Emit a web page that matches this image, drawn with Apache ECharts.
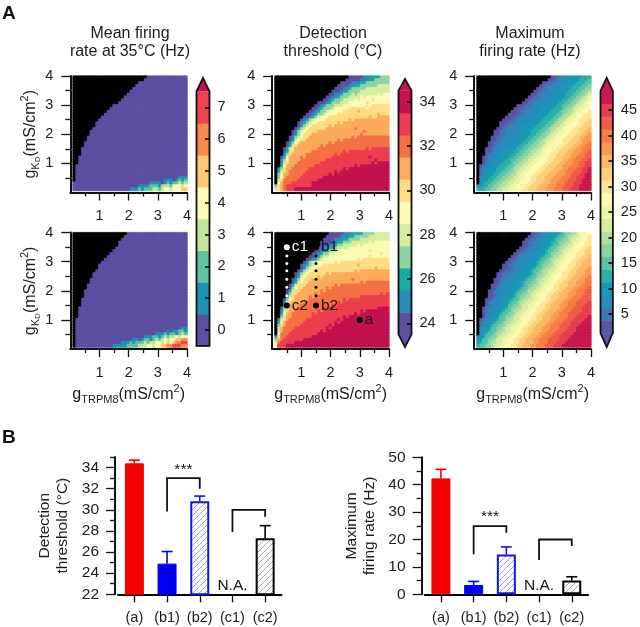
<!DOCTYPE html>
<html><head><meta charset="utf-8">
<style>html,body{margin:0;padding:0;background:#fff}#c{width:640px;height:627px}</style>
<script src="https://cdn.jsdelivr.net/npm/echarts@6/dist/echarts.min.js"></script>
</head><body><div id="c"></div>
<script>
// conductance grid (0.1 .. 4.0 mS/cm2), 40 x 40 cells
const gLabels = ['0.1','0.2','0.3','0.4','0.5','0.6','0.7','0.8','0.9','1.0','1.1','1.2','1.3','1.4','1.5','1.6','1.7','1.8','1.9','2.0','2.1','2.2','2.3','2.4','2.5','2.6','2.7','2.8','2.9','3.0','3.1','3.2','3.3','3.4','3.5','3.6','3.7','3.8','3.9','4.0'];

// colour classes
const firingPalette = ['#5e4fa2','#1c93b4','#5cc4a2','#c4e69c','#fdfcb4','#fdc86e','#f98a47','#f0434f','#c2134f'];
const thresholdPalette = ['#5e4fa2','#2b8cbc','#17ada4','#8ed4a2','#d6ee9e','#fbfbb2','#fedd84','#fdab5d','#f57145','#ec3e50','#c2134f'];
const ratePalette = ['#5b55a6','#4374b4','#2a8bbd','#1b98b6','#2bb0a8','#58c3a5','#8ad1a4','#b1dfa3','#d8eda0','#eef7a6','#fdfbb2','#fee79a','#fdd07a','#fdb866','#fb9b50','#f67f45','#f15d48','#e63e50','#c9194f'];

// each row is written top (4.0) to bottom (0.1); "." = no firing, x*n = n cells of class x
const firingTopRows = [".*26 0*14",".*25 0*15",".*23 0*17",".*22 0*18",".*21 0*19",".*20 0*20",".*19 0*21",".*18 0*22",".*17 0*23",".*16 0*24",".*14 0*26",".*13 0*27",".*12 0*28",".*11 0*29",".*10 0*30",".*9 0*31",".*8 0*32",".*8 0*32",".*7 0*33",".*6 0*34",".*6 0*34",".*5 0*35",".*5 0*35",".*4 0*36",".*4 0*36",".*3 0*37",".*3 0*37",".*3 0*37",".*2 0*38",".*2 0*38",".*2 0*38",".*1 0*39",".*1 0*39",".*1 0*39",".*1 0*39",".*1 0*36 1*3",".*1 0*31 1*3 0 1 2 1 2 2",".*0 0*27 1*4 0 1 2 1 2 2 3 2 3 3 4 4",".*0 0*23 1*4 2*3 1 3*3 2 4*3 3 4 5 4",".*0 0*20 1*3 2 1 2*3 3*2 2 3 4*2 3 4*3 5 5 4"];
const firingBottomRows = [".*19 0*21",".*18 0*22",".*17 0*23",".*16 0*24",".*16 0*24",".*15 0*25",".*14 0*26",".*13 0*27",".*12 0*28",".*11 0*29",".*10 0*30",".*9 0*31",".*9 0*31",".*8 0*32",".*7 0*33",".*7 0*33",".*6 0*34",".*6 0*34",".*5 0*35",".*5 0*35",".*4 0*36",".*4 0*36",".*4 0*36",".*3 0*37",".*3 0*37",".*3 0*37",".*2 0*38",".*2 0*38",".*2 0*38",".*2 0*38",".*1 0*39",".*1 0*39",".*1 0*39",".*1 0*37 1*2",".*1 0*32 1 0 1 1 2 2 1 2",".*1 0*28 1*3 2 1 2*2 1 2 3 2 3",".*1 0*24 1*3 2*2 1 2 3 2 3*2 4 3 4*2",".*1 0*20 1*2 0 1 2*2 1 2 3 2 3 4 3 4 4 5 5 6",".*1 0*16 1*3 2 1 2*3 3 2 3*2 4*2 3 4 5 4 5 6 6 7",".*1 0*13 1*5 2*4 3*3 4*2 3 4*2 5*2 6*2 7*3 6"];

const thresholdTopRows = [".*26 0*5 1*3 2*3 3*3",".*25 0*5 1*3 2*2 3*5",".*23 0*4 1*3 2*2 3*8",".*22 0*4 1*2 2*2 3*6 4*4",".*21 0*3 1*2 2 3*5 4*8",".*20 0*3 1*2 2 3*4 4*10",".*19 0*2 1*2 2 3*3 43 4*7 54 5*2",".*18 0*2 1*2 2 3*3 4*4 54 5*8",".*17 0*2 1 2 3*3 4*4 54 5*4 65 5*4",".*15 0*3 1 2 3*3 4*3 5*6 65 5*6",".*14 0*2 1 2 3*3 4*3 5*8 65 6*6",".*13 0*2 1 2 3*3 4 5*5 6*6 56 6*6",".*12 0*2 1 2 3*2 4 5*5 6*5 76 6*9",".*11 0*2 1 2 3*2 4 5*4 6*14 76 6*2",".*10 0*2 1 2 3 4 5*3 6*14 76 6 7*4",".*9 0 1 2 3 4 5*4 6*8 76 7*12",".*8 0 1 2 3 4 5*2 6*7 76 7*16",".*8 0 1 3 4 5 6*6 76 7*19",".*7 0 1 3 4 5 6*6 7*10 87 7*10",".*6 0 1 3 4 5 6*4 7*16 87 7*7",".*6 0 1 3 5 6*3 7*17 87 7*8",".*5 0 1 3 4 5 6*2 7*15 87 8*11",".*5 0 1 4 5 6*2 7*11 87 8*16",".*4 0 1 3 5 6 7*10 87 8*19",".*4 0 2 4 6 7*8 87 8*22",".*3 0 2 4 6 7*8 8*17 98 9*6",".*3 0 2 4 6 7*6 8*11 98 9*14",".*3 1 3 6 7*5 8*10 98 9*17",".*2 0 2 5 7*4 87 8*9 9*13 a9 9*5",".*2 1 3 5 7*4 8*9 9*17 a9 9*3",".*2 1 4 6 7*3 8*8 9*18 a9 a*4",".*2 2 5 7*3 8*7 9*14 a9 a*10",".*1 1 3 6 7*2 8*6 9*12 a9 a*14",".*1 2 4 6 7 8*6 9*10 a9 a*17",".*1 3 5 7*2 8*5 9*9 a9 a*19",".*1 3 5 7 8*5 9*8 a*23",".*1 4 6 8*5 9*7 a*25",".*1 5 7 8*3 9*7 a*27","3 6 7 8 9*9 a*27","4 6 7 8 9*3 a*33"];
const thresholdBottomRows = [".*19 0*5 1*3 2*4 3*4 4*5",".*18 0*5 1*3 2*2 3*5 4*7",".*17 0*4 1*3 2*2 3*4 4*10",".*16 0*4 1*2 2*2 3*3 4*6 54 5*5",".*16 0*3 1*2 2 3*2 4*5 54 5*9",".*15 0*2 1*2 2*2 3 4*4 5*14",".*14 0*2 1*2 2 3 4*3 5*10 65 5*5",".*13 0*2 1 2 3*2 4*2 5*16 65 5",".*12 0*2 1 2 3 4*2 5*14 65 5*5",".*11 0*2 1 2 3 4 5*12 65 6*9",".*10 0 1 3 4*2 5*6 65 6*17",".*9 0 1 2 3 4 5*3 6*12 76 6*9",".*9 0 1 3 4 5*2 6*20 76 6*3",".*8 0 1 3 4 5 6*15 76 7*10",".*7 0 1 3 4 5 6*6 76 7*20",".*7 0 2 4 5 6*4 76 7*23",".*6 0 1 3 5 6*3 76 7*12 87 7*12",".*6 0 2 4 5 6*2 7*18 87 8*8",".*5 0 2 4 6*3 7*10 87 8*17",".*5 0 3 5 6*2 7*8 87 8*20",".*4 0 2 4 6*2 7*7 87 8*22",".*4 0 3 6*2 7*6 87 8*21 98 9*2",".*4 1 4 6 7*5 87 8*16 9*10",".*3 0 3 5 6 7*5 8*12 98 9*14",".*3 1 4 6 7*4 8*12 98 9*16",".*3 2 5 7*4 8*11 98 9*18",".*2 0 3 5 7*3 8*9 98 9*17 a*4",".*2 1 4 6 7*2 8*8 98 9*13 a9 a*9",".*2 2 5 7*2 8*7 98 9*13 a9 a*11",".*2 3 6 7*2 8*7 9*11 a9 a*14",".*1 1 4 6 7 8*6 9*11 a9 a*16",".*1 2 5 7 8*6 9*11 a9 a*17",".*1 3 6 7 8*5 9*10 a9 a*19",".*1 4 7 8*4 9*11 a9 a*20",".*1 4 7 8*3 9*10 a9 a*22",".*1 5 8*3 9*10 a*25","2 6 8*2 9*9 a*27","3 7 8 9*7 a*30","4 8 9*5 a*33","5 9*3 a*36"];

const rateTopRows = [".*26 001 2222 3333 444",".*25 001 2222 3333 444 5",".*23 0011 2222 3333 444 55",".*22 0011 2222 3333 444 55 6",".*21 0011 2222 3333 444 55 66",".*20 0011 2222 3333 444 55 66 7",".*19 0011 2222 3333 444 55 66 7 8",".*18 0011 22222 3333 44 55 66 7 8 9",".*17 0011 22222 3333 44 55 66 7 88 9",".*16 0011 22222 3333 44 55 66 7 88 9 a",".*14 00011 22222 3333 44 55 66 7 88 99 a",".*13 00011 22222 3333 444 5 66 7 88 99 aa",".*12 00011 22222 3333 444 5 66 77 8 99 aa b",".*11 00011 22222 3333 444 55 6 77 8 99 aa bb",".*10 00011 22222 3333 444 55 6 77 8 99 aa bbb",".*9 00011 22222 3333 444 55 6 77 8 99 aa bbb c",".*8 00011 22222 3333 444 55 6 77 8 99 aaa bb cc",".*8 0011 22222 3333 444 55 6 77 88 9 aaa bb ccc",".*7 0011 22222 3333 444 55 6 77 88 9 aaa bb ccc d",".*6 0011 22222 3333 444 55 66 7 88 99 aa bbb cc dd",".*6 0011 22222 3333 44 55 66 7 88 99 aa bbb cc dd e",".*5 0011 22222 3333 44 55 66 7 88 99 aa bbb cc dd ee",".*5 0011 2222 3333 44 55 66 7 88 99 aa bbb ccc d eee",".*4 0011 2222 3333 44 55 66 77 8 99 aaa bb ccc dd ee f",".*4 001 2222 3333 44 55 66 77 8 99 aaa bb ccc dd ee ff",".*3 001 2222 3333 44 55 66 77 8 99 aaa bb ccc dd ee fff",".*3 001 222 3333 44 55 66 77 88 9 aaa bb ccc dd eee ff g",".*3 01 222 3333 44 55 66 77 88 99 aa bb ccc dd eee ff gg",".*2 01 222 3333 44 55 66 77 88 99 aa bbb cc ddd ee fff gg",".*2 01 22 3333 44 55 66 77 88 99 aaa bb ccc dd ee fff gg h",".*2 01 22 333 444 5 66 77 88 99 aaa bb ccc dd eee ff gg hh",".*1 01 22 333 444 55 6 77 88 99 aaa bb ccc dd eee fff gg hh",".*1 1 22 333 444 55 6 77 88 99 aaa bb ccc ddd ee fff gg hh i",".*1 1 22 333 44 55 66 7 88 99 aaa bb ccc ddd ee fff ggg hh i",".*1 1 2 333 44 55 66 77 8 99 aaa bb ccc ddd eee ff ggg hh ii",".*1 2 2 33 44 55 66 77 88 99 aa bb ccc ddd eee fff gg hhh ii",".*1 2 33 44 55 66 77 88 99 aaa bb ccc dd eee fff ggg hh iii",".*1 2 3 44 55 66 77 88 99 aaa bb ccc ddd ee fff ggg hhh iii","33 44 55 66 77 88 99 aaa bb ccc ddd eee fff ggg hh iiii","444 55 66 77 88 99 aaa bb ccc ddd eee fff ggg hhh iiii"];
const rateBottomRows = [".*19 0011 222 333 4 5 66 77 8 99 aa",".*18 0011 222 333 4 55 6 77 88 9 aa b",".*17 0011 222 333 4 55 66 7 88 99 aa b",".*16 0011 222 333 44 5 66 77 8 99 aa bb",".*16 0011 222 333 4 55 6 77 88 9 aaa bb",".*15 0011 222 333 4 55 6 77 88 9 aaa bb c",".*14 0011 222 333 4 55 66 7 88 99 aa bb cc",".*13 0011 2222 333 4 5 66 77 8 99 aa bbb cc",".*12 0011 2222 333 4 55 6 77 88 9 aaa bb cc d",".*11 0011 2222 333 4 55 6 77 88 99 aa bb cc dd",".*10 0011 2222 333 4 55 66 7 88 99 aa bb cc ddd",".*9 0011 2222 3333 4 5 66 77 8 99 aa bbb cc ddd",".*9 0011 2222 333 4 55 6 77 88 9 aaa bb cc ddd e",".*8 0011 2222 333 4 55 6 77 88 99 aa bb cc ddd ee",".*7 0011 2222 3333 4 5 66 77 8 99 aa bb ccc ddd ee",".*7 0011 2222 333 4 55 6 77 88 9 aaa bb cc ddd ee f",".*6 0011 2222 333 4 55 6 77 88 99 aa bb cc ddd ee ff",".*6 001 2222 333 4 55 66 7 88 99 aa bb cc ddd eee ff",".*5 001 2222 3333 4 5 66 77 8 99 aa bb ccc ddd ee fff",".*5 001 2222 333 4 55 6 77 88 9 aaa bb cc ddd ee fff g",".*4 001 2222 333 4 55 6 77 88 99 aa bb cc ddd ee fff gg",".*4 001 222 333 4 55 66 7 88 99 aa bb cc ddd eee fff gg",".*4 001 222 333 4 5 66 77 8 99 aa bb ccc ddd ee fff ggg",".*3 001 222 333 4 55 6 77 88 99 aa bb cc ddd ee fff gggg",".*3 01 222 333 4 55 6 77 88 99 aa bb cc ddd ee fff gggg h",".*3 01 222 333 55 66 7 88 99 aa bb cc ddd eee fff ggg hh",".*2 01 222 333 4 5 66 77 88 9 aa bbb cc ddd ee fff ggg hhh",".*2 01 222 33 4 55 6 77 88 99 aa bb cc ddd ee fff gggg hhh",".*2 01 22 33 4 55 66 7 88 99 aa bb cc ddd ee fff gggg hhhh",".*2 01 22 33 55 66 7 88 99 aa bb cc ddd eee fff ggg hhhh i",".*1 01 22 33 4 55 6 77 88 9 aaa bb cc ddd ee fff ggg hhhh ii",".*1 1 22 33 4 55 6 77 88 99 aa bb cc ddd ee fff ggg hhhh iii",".*1 1 22 3 4 55 66 7 88 99 aa bb cc ddd ee fff gggg hhh iiii",".*1 22 33 55 66 7 88 99 aa bb cc ddd eee fff ggg hhh iiiii",".*1 233 4 55 6 77 88 99 aa bb cc ddd ee fff ggg hhhh iiiii",".*1 23 4 55 6 77 88 99 aa bb cc ddd ee fff ggg hhhh iiiiii","333 55 66 7 88 99 aa bb cc ddd ee fff ggg hhhh iiiiiii","33 55 66 7 88 99 aa bb cc ddd ee fff gggg hhh iiiiiiii","3 4 55 6 77 88 99 aa bb cc ddd ee fff ggg hhh iiiiiiiii","4 55 66 7 88 99 aa bb cc ddd ee fff ggg hhh iiiiiiiiii"];

// colour bars: band edges and arrow tips in data units
const firingEdges = [-0.5,0.5,1.5,2.5,3.5,4.5,5.5,6.5,7.5];
const thresholdEdges = [23.5,24.5,25.5,26.5,27.5,28.5,29.5,30.5,31.5,32.5,33.5,34.5];
const rateEdges = [1.25,3.75,6.25,8.75,11.25,13.75,16.25,18.75,21.25,23.75,26.25,28.75,31.25,33.75,36.25,38.75,41.25,43.75,46.25,48.75];
const firingTicks = [0,1,2,3,4,5,6,7];
const thresholdTicks = [24,26,28,30,32,34];
const rateTicks = [5,10,15,20,25,30,35,40,45];

// markers on the lower threshold map
const blackPoints = [[3,1,'a'],[1.5,3.5,'b1'],[1.5,1.5,'b2'],[0.5,1.5,'c2']];
const whitePoints = [[0.5,3.5,'c1']];
const whiteDots = [[0.5,3.2],[0.5,2.94],[0.5,2.69],[0.5,2.4],[0.5,2.12],[0.5,1.83]];
const blackDots = [[1.5,3.2],[1.5,2.94],[1.5,2.69],[1.5,2.4],[1.5,2.12],[1.5,1.83]];

// bar panels
const barCategories = ['(a)','(b1)','(b2)','(c1)','(c2)'];
const thresholdMeans = [34.4,24.9,30.8,null,27.3];
const thresholdErrors = [34.7,26.05,31.3,null,28.5];
const rateMeans = [42.3,3.4,14.5,null,5.0];
const rateErrors = [45.6,4.7,17.3,null,6.4];
const thresholdMajorTicks = [22,24,26,28,30,32,34];
const thresholdMinorTicks = [23,25,27,29,31,33,35];
const thresholdBrackets = [[[1,29.83],[1,33],[2,33],[2,32]],[[3,27.9],[3,30],[4,30],[4,29.35]]];
const rateBrackets = [[[1,14.6],[1,24.9],[2,24.9],[2,22.5]],[[3,12.5],[3,20],[4,20],[4,17.6]]];
const thresholdNotes = [[1.5,33.75,'***'],[3,22.85,'N.A.']];
const rateNotes = [[1.5,28.3,'***'],[3,3,'N.A.']];

const FONT = '"Liberation Sans", Arial, sans-serif';
const INK = '#1c1c1c';
const grids = [], xAxes = [], yAxes = [], series = [];

function parseRow(row){
  let s = '';
  row.split(' ').forEach(t => { s += t.includes('*') ? t[0].repeat(+t.slice(2)) : t; });
  return s.padEnd(40, s[s.length-1]).slice(0,40);
}
function heatData(rows, palette){
  const out = [];
  rows.forEach((row, r) => {
    const s = parseRow(row);
    for (let c = 0; c < 40; c++){
      const band = s[c] === '.' ? -1 : parseInt(s[c], 36);
      const color = band < 0 ? '#000' : palette[band];
      out.push({value:[c, 39-r, band], itemStyle:{color, borderColor:color, borderWidth:0.5}});
    }
  });
  return out;
}
const gNameRich = {
  m:{fontFamily:FONT,fontSize:16,color:INK,lineHeight:22,verticalAlign:'middle'},
  s:{fontFamily:FONT,fontSize:11,color:INK,lineHeight:22,verticalAlign:'bottom'},
  d:{fontFamily:FONT,fontSize:8,color:INK,lineHeight:22,verticalAlign:'bottom'},
  u:{fontFamily:FONT,fontSize:11,color:INK,lineHeight:22,verticalAlign:'top'}
};
function valueAxis(gridIndex, extra){
  return Object.assign({
    type:'value', gridIndex, min:0, max:4, interval:1, z:6,
    axisLine:{show:true,onZero:false,lineStyle:{color:'#111',width:2}},
    axisTick:{show:true,customValues:[1,2,3,4],lineStyle:{color:'#111',width:1.3}},
    minorTick:{show:true,splitNumber:2,lineStyle:{color:'#111',width:1.3}},
    splitLine:{show:false}, minorSplitLine:{show:false},
    axisLabel:{customValues:[1,2,3,4],fontFamily:FONT,fontSize:14.5,color:INK}
  }, extra);
}
function addPanel(o){
  const W = 116.8, H = 116.5, heatLeft = o.left + 2.7;
  const gi = grids.length;
  grids.push({left:heatLeft, top:o.top, width:o.left + W - heatLeft, height:114.6});
  const xi = xAxes.length, yi = yAxes.length;
  xAxes.push({type:'category',gridIndex:gi,data:gLabels,show:false});
  yAxes.push({type:'category',gridIndex:gi,data:gLabels,show:false});
  series.push({type:'heatmap',xAxisIndex:xi,yAxisIndex:yi,data:heatData(o.rows,o.palette),progressive:0,animation:false,z:1});
  const gv = grids.length;
  grids.push({left:o.left, top:o.top, width:W, height:H});
  const x = valueAxis(gv,{position:'bottom'});
  x.axisTick.length = 8; x.minorTick.length = 4; x.axisLabel.margin = 16;
  if (o.xName){ Object.assign(x,{name:'{m|g}{s|TRPM8}{m|(mS/cm}{u|2}{m|)}',nameLocation:'middle',nameGap:34,nameTextStyle:{rich:gNameRich}}); }
  const y = valueAxis(gv,{position:'left'});
  y.axisTick.length = 9; y.minorTick.length = 5; y.axisLabel.margin = 17;
  if (o.yName){ Object.assign(y,{name:'{m|g}{s|K}{d|D}{m|(mS/cm}{u|2}{m|)}',nameLocation:'middle',nameGap:27,nameTextStyle:{rich:gNameRich}}); }
  const vxi = xAxes.length, vyi = yAxes.length;
  xAxes.push(x); yAxes.push(y);
  return {x:vxi, y:vyi};
}
function addColorbar(o){
  const gi = grids.length;
  grids.push({left:o.left, top:o.top, width:o.width, height:o.height});
  const xi = xAxes.length, yi = yAxes.length;
  xAxes.push({type:'value',gridIndex:gi,min:0,max:1,show:false});
  yAxes.push({type:'value',gridIndex:gi,position:'right',min:o.min,max:o.max,interval:o.interval,z:6,
    axisLine:{show:false,onZero:false},splitLine:{show:false},
    axisTick:{show:true,inside:true,length:4.5,customValues:o.ticks,lineStyle:{color:'#000',width:1.5}},
    axisLabel:{customValues:o.ticks,margin:8,fontFamily:FONT,fontSize:14.5,color:INK}});
  const e = o.edges, lo = e[0], hi = e[e.length-1];
  const data = [];
  for (let i = 0; i < e.length-1; i++) data.push([0,e[i],e[i+1],i]);
  series.push({type:'custom',xAxisIndex:xi,yAxisIndex:yi,data,encode:{x:0,y:[1,2]},clip:false,z:3,animation:false,silent:true,
    renderItem(params, api){
      const i = params.dataIndex;
      const kids = [];
      const a = api.coord([0,api.value(2)]), b = api.coord([1,api.value(1)]);
      kids.push({type:'rect',shape:{x:a[0],y:a[1],width:b[0]-a[0],height:b[1]-a[1]+0.5},style:{fill:o.palette[i]}});
      if (i === e.length-2){
        const tl = api.coord([0,hi]), tr = api.coord([1,hi]), tip = api.coord([0.5,o.tipTop]);
        kids.push({type:'polygon',shape:{points:[tl,tip,tr]},style:{fill:o.palette[o.palette.length-1]}});
        const bl = api.coord([0,lo]), br = api.coord([1,lo]);
        let outline;
        if (o.tipBottom !== null){
          const bt = api.coord([0.5,o.tipBottom]);
          kids.push({type:'polygon',shape:{points:[bl,bt,br]},style:{fill:o.palette[0]}});
          outline = [tl,tip,tr,br,bt,bl];
        } else outline = [tl,tip,tr,br,bl];
        kids.push({type:'polygon',shape:{points:outline},style:{fill:null,stroke:'#111',lineWidth:1.8}});
      }
      return {type:'group',children:kids};
    }});
}
function hatch(color, bg){
  const cv = document.createElement('canvas'); cv.width = 6; cv.height = 6;
  const g = cv.getContext('2d');
  g.fillStyle = bg; g.fillRect(0,0,6,6);
  g.strokeStyle = color; g.lineWidth = 1;
  [[-1,1,1,-1],[-1,7,7,-1],[5,7,7,5]].forEach(l => { g.beginPath(); g.moveTo(l[0],l[1]); g.lineTo(l[2],l[3]); g.stroke(); });
  return {image:cv, repeat:'repeat'};
}
function addBars(o){
  const gi = grids.length;
  grids.push({left:o.left, top:o.top, width:163.5, height:o.height});
  const xc = xAxes.length, xv = xc+1, yi = yAxes.length;
  xAxes.push({type:'category',gridIndex:gi,data:barCategories,
    axisLine:{show:true,onZero:false,lineStyle:{color:'#000',width:2}},
    axisTick:{show:true,alignWithLabel:true,length:8,lineStyle:{color:'#111',width:1.3}},
    axisLabel:{margin:16,fontFamily:FONT,fontSize:14.5,color:INK,interval:0}});
  xAxes.push({type:'value',gridIndex:gi,min:-0.5,max:4.5,show:false});
  const baseY = {type:'value',gridIndex:gi,position:'left',offset:3,min:o.min,max:o.max,splitLine:{show:false},z:5};
  const nameStyle = {fontFamily:FONT,fontSize:15.5,color:INK,lineHeight:18};
  if (o.minorTicks){
    yAxes.push(Object.assign({},baseY,{interval:1,
      axisLine:{show:true,onZero:false,lineStyle:{color:'#111',width:2}},
      axisTick:{show:true,length:9,customValues:o.majorTicks,lineStyle:{color:'#111',width:1.3}},
      axisLabel:{customValues:o.majorTicks,margin:16,fontFamily:FONT,fontSize:15.5,color:INK},
      name:o.name,nameLocation:'middle',nameGap:o.nameGap,nameTextStyle:nameStyle}));
    yAxes.push(Object.assign({},baseY,{interval:1,axisLine:{show:false,onZero:false},axisLabel:{show:false},
      axisTick:{show:true,length:5,customValues:o.minorTicks,lineStyle:{color:'#111',width:1.3}}}));
  } else {
    yAxes.push(Object.assign({},baseY,{interval:10,
      axisLine:{show:true,onZero:false,lineStyle:{color:'#111',width:2}},
      axisTick:{show:true,length:9,lineStyle:{color:'#111',width:1.3}},
      minorTick:{show:true,splitNumber:2,length:5,lineStyle:{color:'#111',width:1.3}},
      axisLabel:{margin:16,fontFamily:FONT,fontSize:15.5,color:INK},
      name:o.name,nameLocation:'middle',nameGap:o.nameGap,nameTextStyle:nameStyle}));
  }
  const barStyles = [
    {color:'#f00000',borderColor:'#f00000',borderWidth:1},
    {color:'#0000f0',borderColor:'#0000f0',borderWidth:1},
    {color:hatch('#9c9cf2','#ffffff'),borderColor:'#1414e6',borderWidth:2},
    {},
    {color:hatch('#a8a8a8','#ffffff'),borderColor:'#000',borderWidth:2}
  ];
  series.push({type:'bar',xAxisIndex:xc,yAxisIndex:yi,barWidth:19,animation:false,z:3,
    data:o.means.map((v,i)=> v===null ? null : {value:v,itemStyle:barStyles[i]})});
  const errColors = ['#f00000','#0000f0','#1414e6','#000','#000'];
  const errData = [];
  o.means.forEach((v,i)=>{ if (v!==null) errData.push([i,v,o.errors[i],i]); });
  series.push({type:'custom',xAxisIndex:xv,yAxisIndex:yi,data:errData,encode:{x:0,y:[1,2]},z:2,animation:false,silent:true,
    renderItem(params, api){
      const a = api.coord([api.value(0),api.value(1)]), b = api.coord([api.value(0),api.value(2)]);
      const st = {stroke:errColors[api.value(3)],lineWidth:1.6};
      return {type:'group',children:[
        {type:'line',shape:{x1:a[0],y1:a[1],x2:b[0],y2:b[1]},style:st},
        {type:'line',shape:{x1:b[0]-5.5,y1:b[1],x2:b[0]+5.5,y2:b[1]},style:st}]};
    }});
  o.brackets.forEach(b => series.push({type:'line',xAxisIndex:xv,yAxisIndex:yi,data:b,showSymbol:false,symbol:'none',animation:false,z:4,silent:true,
    lineStyle:{color:'#111',width:1.8,join:'miter'}}));
  series.push({type:'scatter',xAxisIndex:xv,yAxisIndex:yi,data:o.notes,symbolSize:1,itemStyle:{color:'rgba(0,0,0,0)',opacity:1},animation:false,z:4,silent:true,
    label:{show:true,position:'inside',formatter:p=>p.value[2],fontFamily:FONT,fontSize:15.5,color:'#111',opacity:1}});
}

// panels
addPanel({left:70.3,top:76,rows:firingTopRows,palette:firingPalette,yName:true});
addPanel({left:272.2,top:76,rows:thresholdTopRows,palette:thresholdPalette});
addPanel({left:474.2,top:76,rows:rateTopRows,palette:ratePalette});
addPanel({left:70.3,top:232.6,rows:firingBottomRows,palette:firingPalette,yName:true,xName:true});
const mid = addPanel({left:272.2,top:232.6,rows:thresholdBottomRows,palette:thresholdPalette,xName:true});
addPanel({left:474.2,top:232.6,rows:rateBottomRows,palette:ratePalette,xName:true});

// markers
const scatterBase = {type:'scatter',xAxisIndex:mid.x,yAxisIndex:mid.y,animation:false,silent:true,z:8};
series.push(Object.assign({},scatterBase,{data:whiteDots,symbolSize:3,itemStyle:{color:'#fff',opacity:1}}));
series.push(Object.assign({},scatterBase,{data:blackDots,symbolSize:3,itemStyle:{color:'#000',opacity:1}}));
series.push(Object.assign({},scatterBase,{data:blackPoints,symbolSize:6,itemStyle:{color:'#000',opacity:1},
  label:{show:true,position:'right',distance:2,formatter:p=>p.value[2],fontFamily:FONT,fontSize:15.5,color:'#1a1010',opacity:1}}));
series.push(Object.assign({},scatterBase,{data:whitePoints,symbolSize:6,itemStyle:{color:'#fff',opacity:1},
  label:{show:true,position:'right',distance:2,formatter:p=>p.value[2],fontFamily:FONT,fontSize:15.5,color:'#fff',opacity:1}}));

// colour bars
addColorbar({left:196.5,width:13,top:75.6,height:286.2,min:-1,max:8,interval:1,ticks:firingTicks,edges:firingEdges,palette:firingPalette,tipTop:7.93,tipBottom:null});
addColorbar({left:398.5,width:13,top:57.4,height:310.2,min:22,max:36,interval:2,ticks:thresholdTicks,edges:thresholdEdges,palette:thresholdPalette,tipTop:35.03,tipBottom:22.93});
addColorbar({left:600.5,width:13,top:59,height:306,min:-5,max:55,interval:5,ticks:rateTicks,edges:rateEdges,palette:ratePalette,tipTop:51.3,tipBottom:-1.47});

// bars
addBars({left:118,top:457,height:137.3,min:22,max:35,means:thresholdMeans,errors:thresholdErrors,majorTicks:thresholdMajorTicks,minorTicks:thresholdMinorTicks,
  name:'Detection\nthreshold (°C)',nameGap:43,brackets:thresholdBrackets,notes:thresholdNotes});
addBars({left:424.6,top:457.3,height:137,min:0,max:50,means:rateMeans,errors:rateErrors,
  name:'Maximum\nfiring rate (Hz)',nameGap:43,brackets:rateBrackets,notes:rateNotes});

const titleText = ['Mean firing\nrate at 35°C (Hz)','Detection\nthreshold (°C)','Maximum\nfiring rate (Hz)'];
const titleCenters = [130,333,530];
const titles = titleText.map((t,i)=>({text:t,left:titleCenters[i],top:24,padding:0,textAlign:'center',
  textStyle:{fontFamily:FONT,fontSize:16,fontWeight:'normal',color:INK,lineHeight:18.5}}));

const chart = echarts.init(document.getElementById('c'),null,{renderer:'canvas'});
chart.setOption({
  animation:false,
  backgroundColor:'#fff',
  title:titles,
  graphic:[
    {type:'text',left:2,top:4,style:{text:'A',fontFamily:FONT,fontSize:19,fontWeight:'bold',fill:'#111'}},
    {type:'text',left:2,top:428,style:{text:'B',fontFamily:FONT,fontSize:19,fontWeight:'bold',fill:'#111'}}
  ],
  grid:grids,xAxis:xAxes,yAxis:yAxes,series
});
</script></body></html>
